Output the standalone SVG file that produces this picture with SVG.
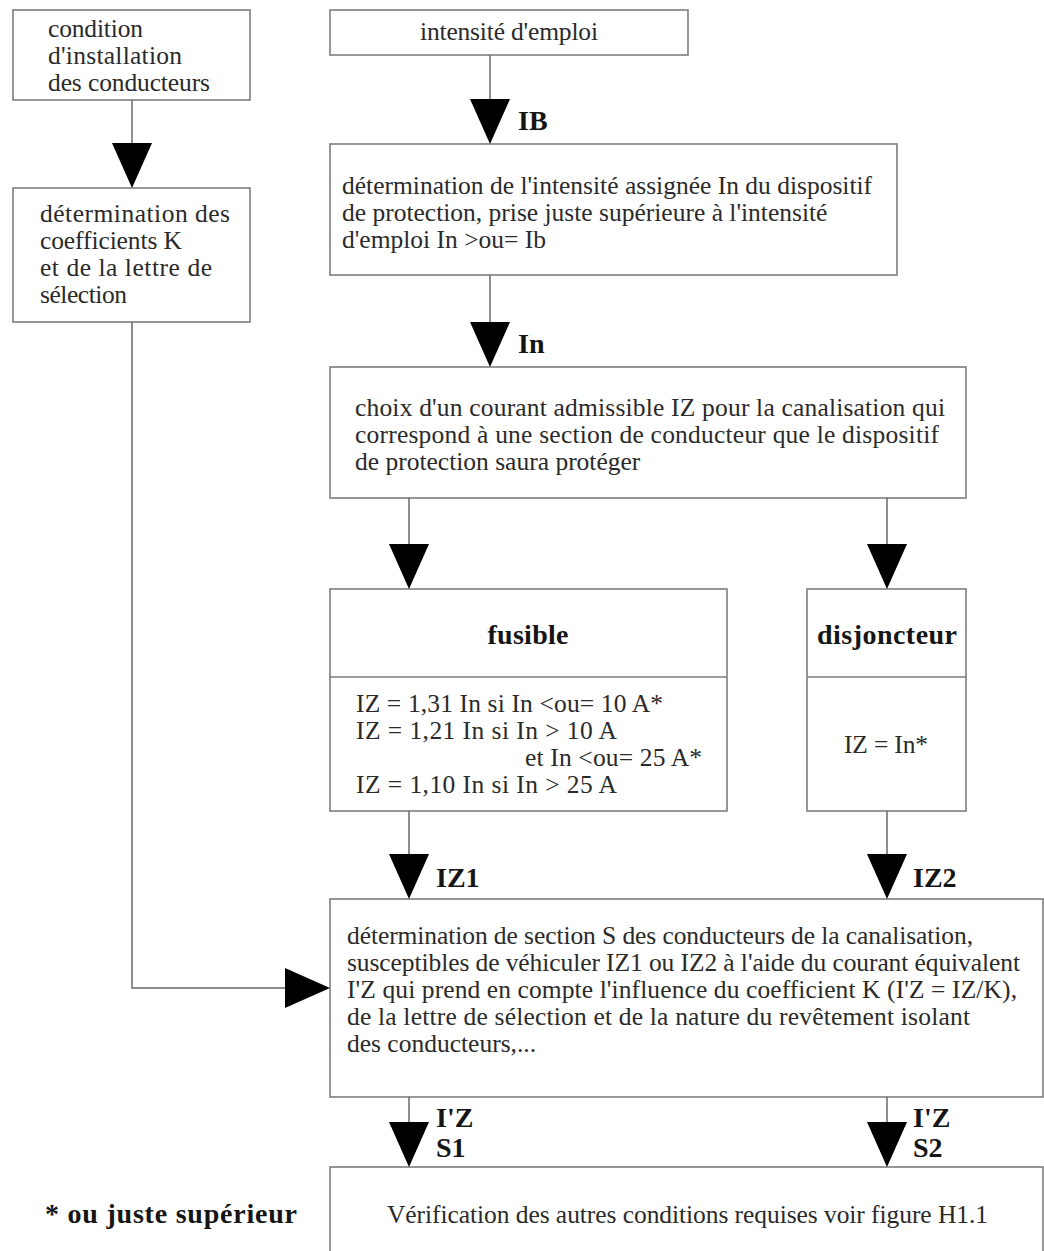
<svg xmlns="http://www.w3.org/2000/svg" width="1044" height="1251" viewBox="0 0 1044 1251">
<style>
.box{fill:#fff;stroke:#7d7d7d;stroke-width:1.6}
.t{font-family:"Liberation Serif","Times New Roman",serif;font-size:25.5px;fill:#2a2a2a}
.b{font-family:"Liberation Serif","Times New Roman",serif;font-weight:bold;font-size:28px;fill:#151515}
.ln{fill:none;stroke:#6a6a6a;stroke-width:1.5}
.ah{fill:#000}
</style>
<defs>
<path id="tri" d="M-20,-45 L20,-45 L0,0 Z"/>
</defs>
<rect width="1044" height="1251" fill="#fff"/>

<g id="node-condition">
<rect class="box" x="13" y="10" width="237" height="90"/>
<text class="t" x="48" y="37" textLength="95">condition</text>
<text class="t" x="48" y="64" textLength="134">d'installation</text>
<text class="t" x="48" y="91" textLength="162">des conducteurs</text>
</g>

<g id="node-coefficients">
<rect class="box" x="13" y="188" width="237" height="134"/>
<text class="t" x="40" y="222" textLength="190">détermination des</text>
<text class="t" x="40" y="249" textLength="142">coefficients K</text>
<text class="t" x="40" y="276" textLength="172">et de la lettre de</text>
<text class="t" x="40" y="303" textLength="87">sélection</text>
</g>

<g id="node-intensite">
<rect class="box" x="330" y="10" width="358" height="45"/>
<text class="t" x="420" y="40" textLength="178">intensité d'emploi</text>
</g>

<g id="node-in">
<rect class="box" x="330" y="144" width="567" height="131"/>
<text class="t" x="342" y="194">détermination de l'intensité assignée In du dispositif</text>
<text class="t" x="342" y="221">de protection, prise juste supérieure à l'intensité</text>
<text class="t" x="342" y="248">d'emploi In &gt;ou= Ib</text>
</g>

<g id="node-choix">
<rect class="box" x="330" y="367" width="636" height="131"/>
<text class="t" x="355" y="416" textLength="590">choix d'un courant admissible IZ pour la canalisation qui</text>
<text class="t" x="355" y="443" textLength="584">correspond à une section de conducteur que le dispositif</text>
<text class="t" x="355" y="470">de protection saura protéger</text>
</g>

<g id="node-fusible">
<rect class="box" x="330" y="589" width="397" height="222"/>
<line class="box" x1="330" y1="677" x2="727" y2="677"/>
<text class="b" x="528" y="644" text-anchor="middle" textLength="81">fusible</text>
<text class="t" x="356" y="712" textLength="307">IZ = 1,31 In si In &lt;ou= 10 A*</text>
<text class="t" x="356" y="739" textLength="261">IZ = 1,21 In si In &gt; 10 A</text>
<text class="t" x="525" y="766" textLength="177">et In &lt;ou= 25 A*</text>
<text class="t" x="356" y="793" textLength="261">IZ = 1,10 In si In &gt; 25 A</text>
</g>

<g id="node-disjoncteur">
<rect class="box" x="807" y="589" width="159" height="222"/>
<line class="box" x1="807" y1="677" x2="966" y2="677"/>
<text class="b" x="887" y="644" text-anchor="middle" textLength="140">disjoncteur</text>
<text class="t" x="886" y="753" text-anchor="middle" textLength="84">IZ = In*</text>
</g>

<g id="node-section">
<rect class="box" x="330" y="899" width="713" height="198"/>
<text class="t" x="347" y="944" textLength="626">détermination de section S des conducteurs de la canalisation,</text>
<text class="t" x="347" y="971" textLength="673">susceptibles de véhiculer IZ1 ou IZ2 à l'aide du courant équivalent</text>
<text class="t" x="347" y="998" textLength="670">I'Z qui prend en compte l'influence du coefficient K (I'Z = IZ/K),</text>
<text class="t" x="347" y="1025" textLength="623">de la lettre de sélection et de la nature du revêtement isolant</text>
<text class="t" x="347" y="1052">des conducteurs,...</text>
</g>

<g id="node-verification">
<rect class="box" x="330" y="1167" width="713" height="100"/>
<text class="t" x="387" y="1223" textLength="601">Vérification des autres conditions requises voir figure H1.1</text>
</g>

<g id="note">
<text class="b" x="45" y="1223" textLength="252">* ou juste supérieur</text>
</g>

<g id="connectors">
<line class="ln" x1="132" y1="100" x2="132" y2="145"/>
<use href="#tri" class="ah" x="132" y="188"/>

<line class="ln" x1="490" y1="55" x2="490" y2="101"/>
<use href="#tri" class="ah" x="490" y="144"/>
<text class="b" x="518" y="130">IB</text>

<line class="ln" x1="490" y1="275" x2="490" y2="323"/>
<use href="#tri" class="ah" x="490" y="367"/>
<text class="b" x="518" y="353">In</text>

<line class="ln" x1="409" y1="498" x2="409" y2="546"/>
<use href="#tri" class="ah" x="409" y="589"/>
<line class="ln" x1="887" y1="498" x2="887" y2="546"/>
<use href="#tri" class="ah" x="887" y="589"/>

<line class="ln" x1="409" y1="811" x2="409" y2="856"/>
<use href="#tri" class="ah" x="409" y="899"/>
<text class="b" x="436" y="887">IZ1</text>
<line class="ln" x1="887" y1="811" x2="887" y2="856"/>
<use href="#tri" class="ah" x="887" y="899"/>
<text class="b" x="913" y="887">IZ2</text>

<polyline class="ln" points="132,322 132,988 290,988"/>
<use href="#tri" class="ah" transform="translate(330,988) rotate(-90)"/>

<line class="ln" x1="409" y1="1097" x2="409" y2="1124"/>
<use href="#tri" class="ah" x="409" y="1167"/>
<text class="b" x="436" y="1127">I'Z</text>
<text class="b" x="436" y="1157">S1</text>
<line class="ln" x1="887" y1="1097" x2="887" y2="1124"/>
<use href="#tri" class="ah" x="887" y="1167"/>
<text class="b" x="913" y="1127">I'Z</text>
<text class="b" x="913" y="1157">S2</text>
</g>
</svg>
